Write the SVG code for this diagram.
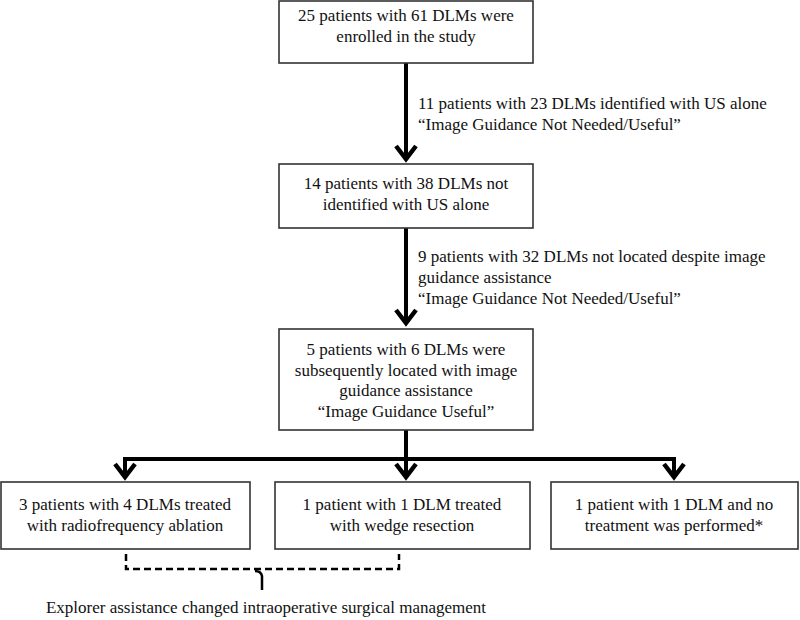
<svg xmlns="http://www.w3.org/2000/svg" width="800" height="620" viewBox="0 0 800 620">
<style>
.box{fill:#fff;stroke:#333;stroke-width:1.6}
text{font-family:"Liberation Serif","Times New Roman",serif;font-size:17px;fill:#111}
.c{text-anchor:middle}
.ln{fill:none;stroke:#000;stroke-width:4}
.ah{fill:none;stroke:#000;stroke-width:4.5;stroke-linejoin:miter;stroke-miterlimit:10}
.dash{fill:none;stroke:#000;stroke-width:2.5;stroke-dasharray:7,4}
</style>
<rect width="800" height="620" fill="#fff"/>
<g id="connectors">
<line class="ln" x1="406" y1="63" x2="406" y2="158"/>
<polyline class="ah" points="396,146 406,159 416,146"/>
<line class="ln" x1="406" y1="228" x2="406" y2="322"/>
<polyline class="ah" points="396,310 406,323 416,310"/>
<polyline class="ln" points="406,430 406,459"/>
<line class="ln" x1="123" y1="459" x2="676" y2="459"/>
<line class="ln" x1="125" y1="459" x2="125" y2="477"/>
<polyline class="ah" points="115,464 125,477 135,464"/>
<line class="ln" x1="406" y1="459" x2="406" y2="477"/>
<polyline class="ah" points="396,464 406,477 416,464"/>
<line class="ln" x1="674" y1="459" x2="674" y2="477"/>
<polyline class="ah" points="664,464 674,477 684,464"/>
</g>
<g id="n1">
<rect class="box" x="279" y="1" width="254" height="62"/>
<text class="c" x="406" y="21">25 patients with 61 DLMs were</text>
<text class="c" x="406" y="42">enrolled in the study</text>
</g>
<g id="l1">
<text x="418" y="109">11 patients with 23 DLMs identified with US alone</text>
<text x="418" y="130">“Image Guidance Not Needed/Useful”</text>
</g>
<g id="n2">
<rect class="box" x="279" y="164" width="254" height="64"/>
<text class="c" x="406" y="189">14 patients with 38 DLMs not</text>
<text class="c" x="406" y="210">identified with US alone</text>
</g>
<g id="l2">
<text x="418" y="262">9 patients with 32 DLMs not located despite image</text>
<text x="418" y="283">guidance assistance</text>
<text x="418" y="304">“Image Guidance Not Needed/Useful”</text>
</g>
<g id="n3">
<rect class="box" x="279" y="329" width="254" height="101"/>
<text class="c" x="406" y="355">5 patients with 6 DLMs were</text>
<text class="c" x="406" y="376">subsequently located with image</text>
<text class="c" x="406" y="396">guidance assistance</text>
<text class="c" x="406" y="417">“Image Guidance Useful”</text>
</g>
<g id="n4">
<rect class="box" x="1" y="482" width="249" height="67"/>
<text class="c" x="125" y="510">3 patients with 4 DLMs treated</text>
<text class="c" x="125" y="531">with radiofrequency ablation</text>
</g>
<g id="n5">
<rect class="box" x="275" y="482" width="255" height="67"/>
<text class="c" x="402" y="510">1 patient with 1 DLM treated</text>
<text class="c" x="402" y="531">with wedge resection</text>
</g>
<g id="n6">
<rect class="box" x="551" y="482" width="247" height="67"/>
<text class="c" x="674" y="510">1 patient with 1 DLM and no</text>
<text class="c" x="674" y="531">treatment was performed*</text>
</g>
<g id="bracket">
<path class="dash" d="M126,554 V569 H399 V554"/>
<path fill="none" stroke="#000" stroke-width="2.5" d="M255,571 Q261,571 262,576 V590"/>
</g>
<g id="note">
<text class="c" x="266" y="613">Explorer assistance changed intraoperative surgical management</text>
</g>
</svg>
